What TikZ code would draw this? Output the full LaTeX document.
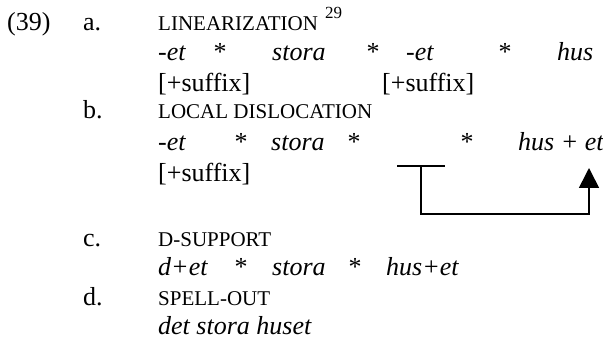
\documentclass[tikz,border=0pt]{standalone}
\usepackage{fontspec}
\setmainfont{Liberation Serif}
\usetikzlibrary{arrows.meta}

\begin{document}
\begin{tikzpicture}[x=1pt, y=-1pt,
  txt/.style={anchor=base west, inner sep=0pt, font=\fontsize{26}{30}\selectfont},
  ex/.style={txt, font=\fontsize{26}{30}\selectfont\itshape},
  sc/.style={txt, font=\fontsize{21}{25}\selectfont},
  star/.style={anchor=base, inner sep=0pt, font=\fontsize{26}{30}\selectfont},
  link/.style={line width=1.6pt}]

  \useasboundingbox (0,0) rectangle (603,342);

  % --- Example number and a. ---
  \node[txt] (num) at (7,31) {(39)};
  \node[txt] (la) at (83,31) {a.};
  \node[sc] (lin) at (158,31) {LINEARIZATION};
  \node[txt, font=\fontsize{17}{20}\selectfont] (fn) at (325,19) {29};

  \node[ex] (a1) at (158,61) {-et};
  \node[star] (as1) at (220,61) {*};
  \node[ex] (a2) at (272,61) {stora};
  \node[star] (as2) at (373,61) {*};
  \node[ex] (a3) at (406,61) {-et};
  \node[star] (as3) at (505,61) {*};
  \node[ex] (a4) at (557,61) {hus};

  \node[txt] (af1) at (158,92) {[+suffix]};
  \node[txt] (af2) at (382,92) {[+suffix]};

  % --- b. ---
  \node[txt] (lb) at (83,119) {b.};
  \node[sc] (loc) at (158,119) {LOCAL DISLOCATION};

  \node[ex] (b1) at (158,151) {-et};
  \node[star] (bs1) at (241,151) {*};
  \node[ex] (b2) at (271,151) {stora};
  \node[star] (bs2) at (354,151) {*};
  \node[star] (bs3) at (467,151) {*};
  \node[ex] (b3) at (518,151) {hus + et};

  \node[txt] (bf1) at (158,182) {[+suffix]};

  % --- Movement connector ---
  \coordinate (barL) at (397,166);
  \coordinate (barR) at (445,166);
  \coordinate (stem) at (421,166);
  \coordinate (tip) at (589,168);
  \draw[link] (barL) -- (barR);
  \draw[link, -{Triangle[width=20pt, length=20pt]}] (stem) -- ++(0,48) -| (tip);

  % --- c. ---
  \node[txt] (lc) at (83,247) {c.};
  \node[sc] (dsup) at (158,247) {D-SUPPORT};

  \node[ex] (c1) at (158,276) {d+et};
  \node[star] (cs1) at (241,276) {*};
  \node[ex] (c2) at (272,276) {stora};
  \node[star] (cs2) at (355,276) {*};
  \node[ex] (c3) at (386,276) {hus+et};

  % --- d. ---
  \node[txt] (ld) at (83,305) {d.};
  \node[sc] (spell) at (158,305) {SPELL-OUT};

  \node[ex] (d1) at (158,334) {det stora huset};

\end{tikzpicture}
\end{document}
